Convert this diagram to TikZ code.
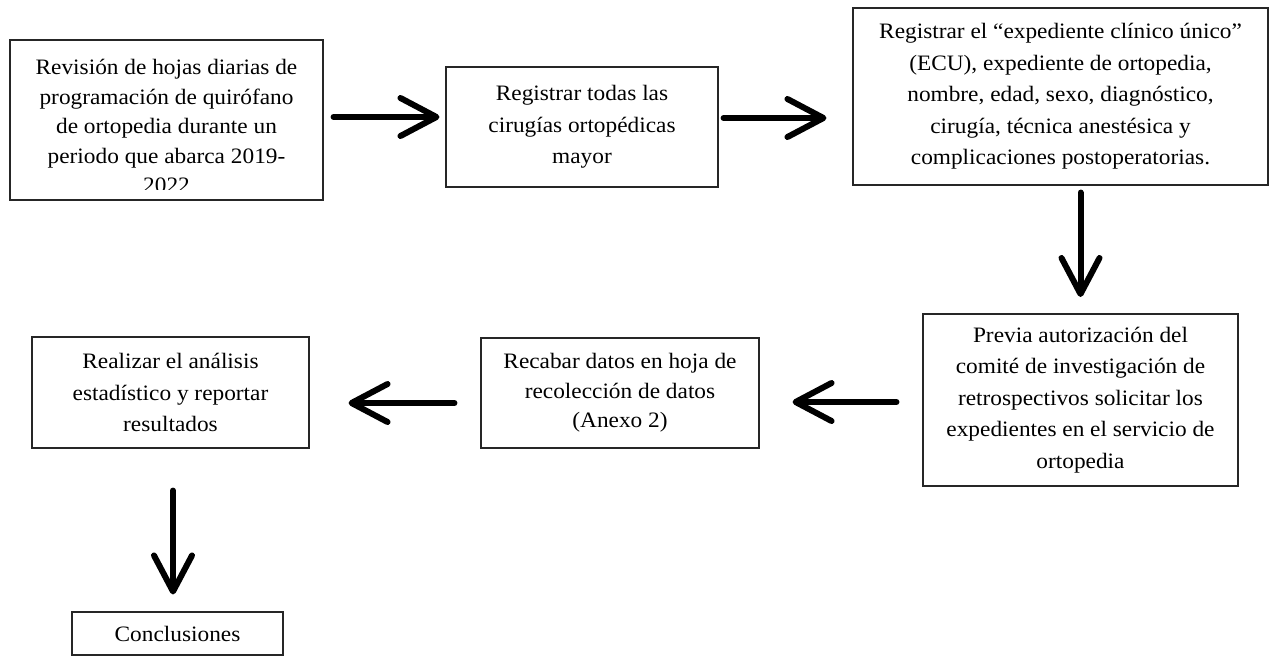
\documentclass[tikz,border=0pt]{standalone}
\usepackage{fontspec}
\setmainfont{Liberation Serif}[FakeStretch=1.06]
\usetikzlibrary{arrows.meta,calc}
\begin{document}
\begin{tikzpicture}[x=1pt,y=-1pt,
  box/.style={draw=black!85, line width=1.1pt, inner sep=0pt, align=center,
    font=\fontsize{22}{31.5}\selectfont},
  harrow/.style={line width=6pt, line cap=round, line join=round,
    -{Straight Barb[length=36pt,width=38pt,line width=6pt,round]}},
  txt/.style={inner sep=0pt, align=center, font=\fontsize{22}{29.5}\selectfont}]
\useasboundingbox (0,0) rectangle (1271,656);
% boxes
\node[box, minimum width=313pt, minimum height=160pt] (b1) at (166.5,120) {};
\begin{scope}
  \clip (10,40) rectangle (323,189);
  \node[txt] (t1) at (166.5,126) {Revisión de hojas diarias de\\programación de quirófano\\de ortopedia durante un\\periodo que abarca 2019-\\2022};
\end{scope}
\node[box, minimum width=272pt, minimum height=120pt] (b2) at (582,127)
  {Registrar todas las\\cirugías ortopédicas\\mayor};
\node[box, minimum width=415pt, minimum height=177pt] (b3) at (1060.5,96.5)
  {Registrar el “expediente clínico único”\\(ECU), expediente de ortopedia,\\nombre, edad, sexo, diagnóstico,\\cirugía, técnica anestésica y\\complicaciones postoperatorias.};
\node[box, minimum width=315pt, minimum height=172pt] (b4) at (1080.5,400)
  {Previa autorización del\\comité de investigación de\\retrospectivos solicitar los\\expedientes en el servicio de\\ortopedia};
\node[box, minimum width=278pt, minimum height=110pt,
  font=\fontsize{22}{29.5}\selectfont] (b5) at (620,393)
  {Recabar datos en hoja de\\recolección de datos\\(Anexo 2)};
\node[box, minimum width=277pt, minimum height=111pt] (b6) at (170.5,392.5)
  {Realizar el análisis\\estadístico y reportar\\resultados};
\node[box, minimum width=211pt, minimum height=43pt] (b7) at (177.5,633.5)
  {Conclusiones};
% connectors
\coordinate (a1s) at ($(b1.east)+(10,-3)$);
\coordinate (a1e) at ($(b2.west)+(-6,-10)$);
\draw[harrow] (a1s) -- (a1e);
\coordinate (a2s) at ($(b2.east)+(5,-9)$);
\coordinate (a2e) at ($(b3.west |- a2s)+(-26,0)$);
\draw[harrow] (a2s) -- (a2e);
\coordinate (a3s) at ($(b3.south)+(20,7)$);
\coordinate (a3e) at ($(b4.north)+(0,-16)$);
\draw[harrow] (a3s) -- (a3e |- 0,297);
\coordinate (a4s) at ($(b4.west)+(-26,2)$);
\coordinate (a4e) at ($(b5.east |- a4s)+(33,0)$);
\draw[harrow] (a4s) -- (a4e);
\coordinate (a5s) at ($(b5.west)+(-26,10)$);
\coordinate (a5e) at ($(b6.east |- a5s)+(39,0)$);
\draw[harrow] (a5s) -- (a5e);
\coordinate (a6s) at ($(b6.south)+(2.5,42)$);
\coordinate (a6e) at ($(b7.north)+(-4.5,-17)$);
\draw[harrow] (a6s) -- (a6s |- a6e);
\end{tikzpicture}
\end{document}
